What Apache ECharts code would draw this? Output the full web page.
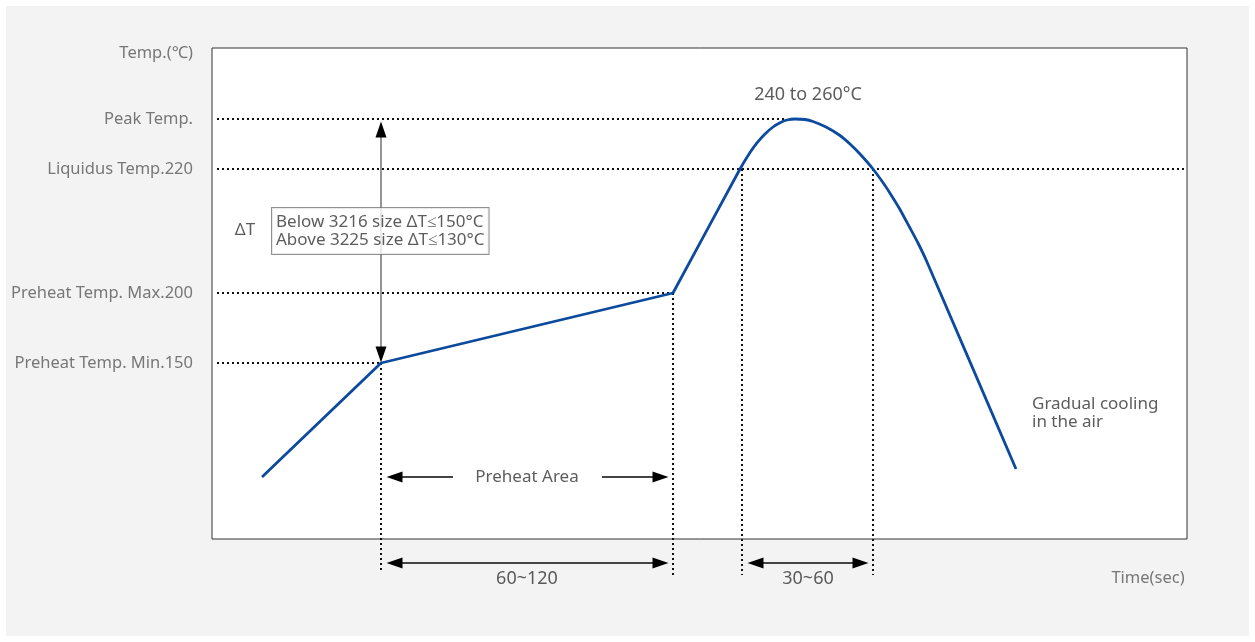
<!DOCTYPE html>
<html>
<head>
<meta charset="utf-8">
<title>Reflow profile</title>
<script src="https://cdn.jsdelivr.net/npm/echarts@6/dist/echarts.min.js"></script>
<style>
  html, body { margin: 0; padding: 0; background: #fff; }
  #chart { width: 1255px; height: 642px; }
</style>
</head>
<body>
<div id="chart"></div>
<script>
// schematic units: x = time (0..975), y = temperature level (0..491)
const xMax = 975
const yMax = 491

// levels named on the left side
const levelValues = [176, 246, 370, 420, 486]
const levelNames = ['Preheat Temp. Min.150', 'Preheat Temp. Max.200', 'Liquidus Temp.220', 'Peak Temp.', 'Temp.(℃)']

// time axis name
const timeValues = [936]
const timeNames = ['Time(sec)']

// profile: ramp + preheat (straight), then reflow peak (smooth)
const rampX = [50, 169, 461]
const rampY = [62, 176, 246]
const peakX = [461, 528, 538, 545, 553, 561, 568, 575, 583, 593, 601, 614, 628, 638, 648, 661, 673, 681, 688, 698, 706, 715, 804]
const peakY = [246, 370, 386.6, 396.2, 405.1, 412, 416.3, 419, 420, 419.5, 417.5, 412, 403.5, 395, 385, 370, 353.5, 341, 329.5, 311, 296, 277, 70]

// dotted guide lines [x1, y1, x2, y2]
const guides = [
  [5, 420, 575, 420],
  [5, 370, 973, 370],
  [5, 246, 461, 246],
  [5, 176, 169, 176],
  [169, 176, 169, -31],
  [461, 246, 461, -36],
  [530, 370, 530, -36],
  [661, 370, 661, -36]
]

// arrows: start, end, head direction at start / end
const arrows = [
  { from: [169, 409.5], to: [169, 184.5], heads: ['up', 'down'], color: '#8a8a8a' },
  { from: [182.5, 62], to: [241, 62], heads: ['left', null], color: '#444' },
  { from: [390, 62], to: [448.5, 62], heads: [null, 'right'], color: '#444' },
  { from: [182.5, -24], to: [448.5, -24], heads: ['left', 'right'], color: '#444' },
  { from: [543.5, -24], to: [648.5, -24], heads: ['left', 'right'], color: '#444' }
]

// centred annotations
const noteText = ['240 to 260°C', 'ΔT', 'Preheat Area', '60~120', '30~60']
const noteX = [596, 33, 315, 315, 596]
const noteY = [444, 309, 62, -40, -40]

const boxText = ['Below 3216 size ΔT≤150°C', 'Above 3225 size ΔT≤130°C']
const boxPos = [60, 308]
const coolText = ['Gradual cooling', 'in the air']
const coolPos = [820, 126]

const font = 'Noto Sans'
const rot = { up: 0, left: 90, down: 180, right: -90 }

let chart = echarts.init(document.getElementById('chart'))

let series = []

// guides
guides.forEach(g => {
  series.push({
    type: 'line',
    clip: false,
    silent: true,
    symbol: 'none',
    lineStyle: { color: '#111', width: 2, type: [2, 3] },
    data: [[g[0], g[1]], [g[2], g[3]]],
    z: 3
  })
})

// profile curve
series.push({
  type: 'line',
  symbol: 'none',
  lineStyle: { color: '#0b4a9e', width: 2.8 },
  data: rampX.map((x, i) => [x, rampY[i]]),
  z: 5
})
series.push({
  type: 'line',
  symbol: 'none',
  smooth: 0.15,
  lineStyle: { color: '#0b4a9e', width: 2.8 },
  data: peakX.map((x, i) => [x, peakY[i]]),
  z: 5
})

// arrows
arrows.forEach(a => {
  let pts = [a.from, a.to].map((p, i) => {
    let h = a.heads[i]
    return h
      ? { value: p, symbol: 'triangle', symbolSize: [11, 16], symbolRotate: rot[h] }
      : { value: p, symbol: 'none' }
  })
  series.push({
    type: 'line',
    clip: false,
    silent: true,
    lineStyle: { color: a.color, width: 1.8 },
    itemStyle: { color: '#000' },
    data: pts,
    z: 4
  })
})

// text notes
let notes = noteText.map((t, i) => ({
  value: [noteX[i], noteY[i]],
  label: { formatter: t, fontSize: i === 0 || i > 2 ? 18 : 17 }
}))
notes.push({
  value: boxPos,
  label: {
    formatter: boxText.join('\n'),
    position: 'right',
    distance: 0,
    align: 'left',
    fontSize: 17,
    lineHeight: 18,
    backgroundColor: '#fff',
    borderColor: '#777',
    borderWidth: 1,
    padding: [5, 4, 5, 4]
  }
})
notes.push({
  value: coolPos,
  label: {
    formatter: coolText.join('\n'),
    position: 'right',
    distance: 0,
    align: 'left',
    lineHeight: 18
  }
})
series.push({
  type: 'scatter',
  clip: false,
  silent: true,
  symbolSize: 0,
  label: {
    show: true,
    position: 'inside',
    color: '#333',
    fontFamily: font,
    fontSize: 17
  },
  data: notes,
  z: 10
})

let option = {
  backgroundColor: '#fff',
  animation: false,
  graphic: [{
    type: 'rect',
    z: -10,
    shape: { x: 6, y: 6, width: 1243, height: 630 },
    style: { fill: '#f3f3f3' }
  }],
  grid: {
    left: 212,
    top: 48,
    width: 975,
    height: 491,
    show: true,
    backgroundColor: '#fff',
    borderColor: '#333',
    borderWidth: 1
  },
  xAxis: {
    type: 'value',
    min: 0,
    max: xMax,
    axisLine: { show: false },
    axisTick: { show: false },
    splitLine: { show: false },
    axisLabel: {
      customValues: timeValues,
      formatter: v => timeNames[timeValues.indexOf(v)],
      margin: 31,
      color: '#777',
      fontFamily: font,
      fontSize: 16.5
    }
  },
  yAxis: {
    type: 'value',
    min: 0,
    max: yMax,
    axisLine: { show: false },
    axisTick: { show: false },
    splitLine: { show: false },
    axisLabel: {
      customValues: levelValues,
      formatter: v => levelNames[levelValues.indexOf(v)],
      margin: 19,
      color: '#777',
      fontFamily: font,
      fontSize: 16.5
    }
  },
  series: series
}

chart.setOption(option)
</script>
</body>
</html>
